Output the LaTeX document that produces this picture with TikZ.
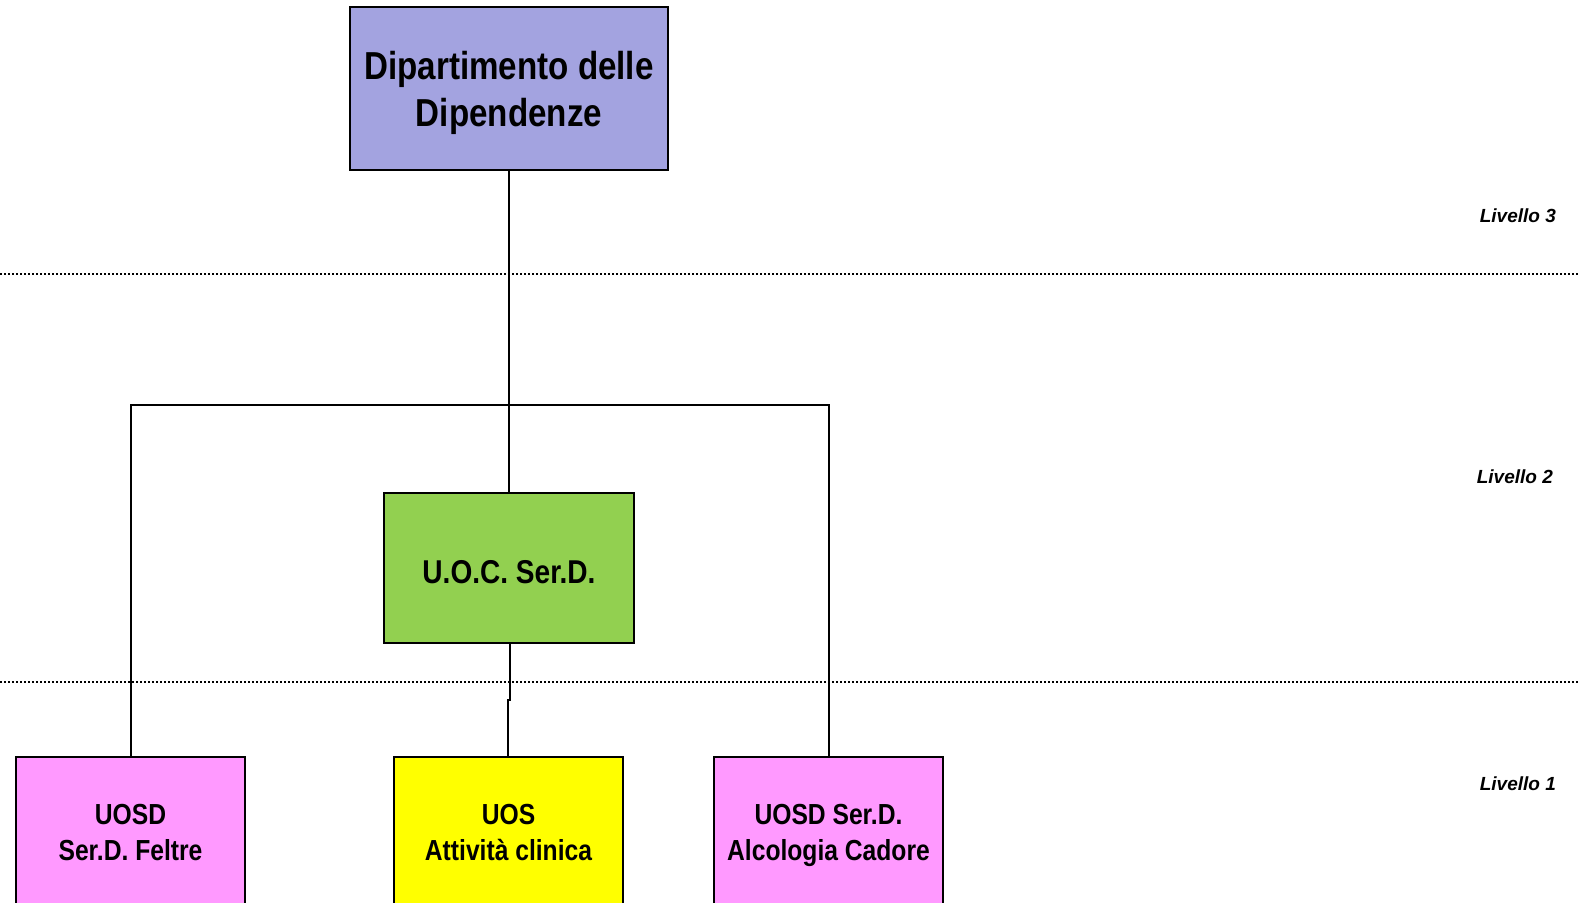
\documentclass[tikz,border=0pt]{standalone}
\usepackage{fontspec}
\setmainfont{Liberation Sans}
\newfontfamily\narrowfont[FakeStretch=0.85]{Liberation Sans}
\usetikzlibrary{positioning}
\definecolor{dipblue}{HTML}{A3A3E0}
\definecolor{uocgreen}{HTML}{92D050}
\definecolor{uosdpink}{HTML}{FF99FF}
\definecolor{uosyellow}{HTML}{FFFF00}
\tikzstyle{unit} = [rectangle, draw, line width=2pt, align=center, inner sep=0pt, font=\narrowfont\bfseries]
\tikzstyle{leaf} = [unit, minimum width=229pt, minimum height=150pt, text depth=0pt, font=\narrowfont\bfseries\fontsize{29}{36}\selectfont]
\tikzstyle{line} = [draw, line width=2pt]
\tikzstyle{level} = [draw, line width=1.6pt, dash pattern=on 1.6pt off 2.4pt]
\tikzstyle{tag} = [anchor=east, inner sep=0pt, font=\bfseries\itshape\fontsize{19}{22}\selectfont]

\begin{document}
\begin{tikzpicture}[x=1pt, y=-1pt]
    \useasboundingbox (0,0) rectangle (1578,902);
    \clip (0,0) rectangle (1578,902);
    \fill[white] (0,0) rectangle (1578,902);
    % levels
    \draw[level] (0,274) -- (1578,274);
    \draw[level] (0,682) -- (1578,682);
    \node[tag] (lv3) at (1556,216) {Livello 3};
    \node[tag] (lv2) at (1553,477) {Livello 2};
    \node[tag] (lv1) at (1556,784) {Livello 1};
    % units
    \node[unit, fill=dipblue, minimum width=318pt, minimum height=163pt, text depth=0pt, font=\narrowfont\bfseries\fontsize{39}{47}\selectfont] (DIP) at (509,88.5) {Dipartimento delle\\Dipendenze};
    \node[unit, fill=uocgreen, minimum width=250pt, minimum height=150pt, text height=30pt, text depth=0pt, font=\narrowfont\bfseries\fontsize{33}{36}\selectfont] (UOC) at (509,568) {U.O.C. Ser.D.};
    \node[leaf, fill=uosyellow] (UOS) at (508.5,832) {UOS\\Attività clinica};
    \node[leaf, fill=uosdpink, left=147pt of UOS] (FELTRE) {UOSD\\Ser.D. Feltre};
    \node[leaf, fill=uosdpink, right=89pt of UOS] (CADORE) {UOSD Ser.D.\\Alcologia Cadore};
    % links
    \coordinate (split) at (DIP.south |- 0,405);
    \path[line] (DIP.south) -- (UOC.north);
    \path[line] (FELTRE.north) |- (split) -| (CADORE.north);
    \path[line] ([xshift=1pt]UOC.south) -- ++(0,56) -| ([xshift=-0.5pt]UOS.north);
\end{tikzpicture}
\end{document}
